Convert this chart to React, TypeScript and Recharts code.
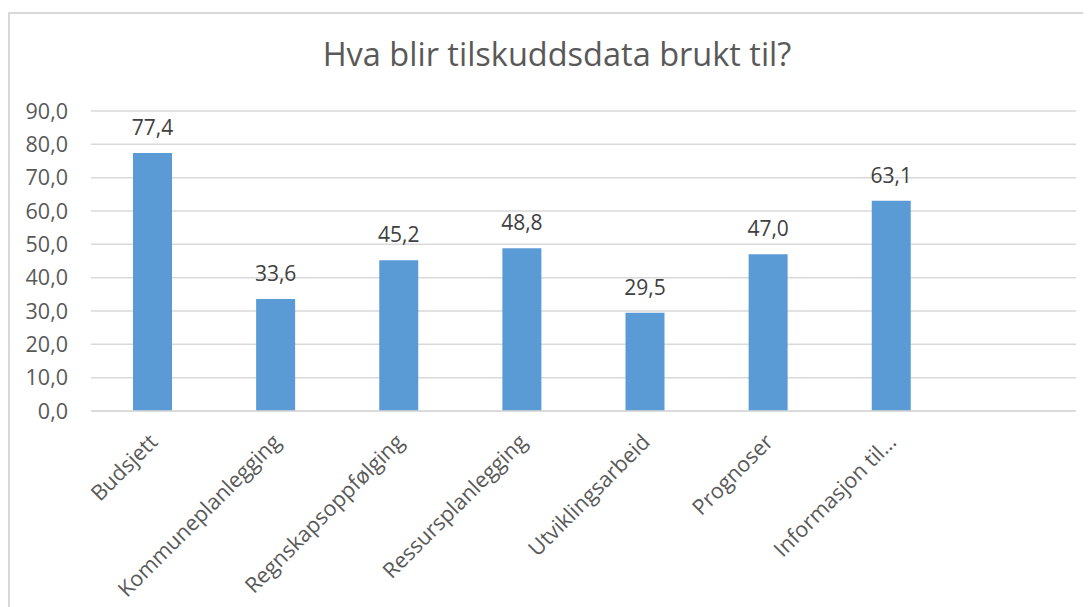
import { BarChart, Bar, XAxis, YAxis, CartesianGrid, LabelList } from 'recharts'

const categories = [
  'Budsjett',
  'Kommuneplanlegging',
  'Regnskapsoppfølging',
  'Ressursplanlegging',
  'Utviklingsarbeid',
  'Prognoser',
  'Informasjon til…',
  '',
]
const values: (number | null)[] = [77.4, 33.6, 45.2, 48.8, 29.5, 47.0, 63.1, null]
const yTicks = [0, 10, 20, 30, 40, 50, 60, 70, 80, 90]

const data = categories.map((c, i) => ({ name: c, value: values[i] }))

const FONT = '"Open Sans", sans-serif'
const fmt = (v: number) => v.toFixed(1).replace('.', ',')

function CategoryTick({ x, y, payload }: any) {
  return (
    <g transform={`translate(${x + 1},${y + 19})`}>
      <text
        x={0}
        y={0}
        dy="0.35em"
        textAnchor="end"
        transform="rotate(-45)"
        fill="#595959"
        fontSize={21.5}
        fontFamily={FONT}
      >
        {payload.value}
      </text>
    </g>
  )
}

export default function App() {
  return (
    <div style={{ width: 1083, height: 599, overflow: 'hidden', position: 'relative' }}>
      <div
        style={{
          position: 'absolute',
          left: 0,
          top: 4,
          width: 1200,
          height: 700,
          border: '2px solid #d9d9d9',
          background: '#fff',
        }}
      >
        <svg width={1100} height={80} style={{ position: 'absolute', left: 0, top: 0 }}>
          <text x={547} y={52} textAnchor="middle" fill="#595959" fontSize={32.5} fontFamily={FONT}>
            Hva blir tilskuddsdata brukt til?
          </text>
        </svg>
        <div style={{ position: 'absolute', left: 0, top: 0 }}>
          <BarChart
            width={1090}
            height={590}
            data={data}
            margin={{ top: 97, right: 24, left: 0, bottom: 43 }}
          >
            <CartesianGrid vertical={false} stroke="#d9d9d9" strokeWidth={1.5} />
            <XAxis
              dataKey="name"
              interval={0}
              height={150}
              tickLine={false}
              axisLine={{ stroke: '#d9d9d9', strokeWidth: 1.5 }}
              tick={<CategoryTick />}
            />
            <YAxis
              domain={[0, 90]}
              ticks={yTicks}
              width={81}
              axisLine={false}
              tickLine={false}
              tickSize={0}
              tickMargin={23}
              tickFormatter={fmt}
              tick={{ fill: '#595959', fontSize: 21.5, fontFamily: FONT }}
            />
            <Bar dataKey="value" fill="#5b9bd5" barSize={39} isAnimationActive={false}>
              <LabelList
                dataKey="value"
                position="top"
                offset={18}
                formatter={(v: any) => (v == null ? '' : fmt(Number(v)))}
                fill="#404040"
                fontSize={21}
                fontFamily={FONT}
              />
            </Bar>
          </BarChart>
        </div>
      </div>
    </div>
  )
}
